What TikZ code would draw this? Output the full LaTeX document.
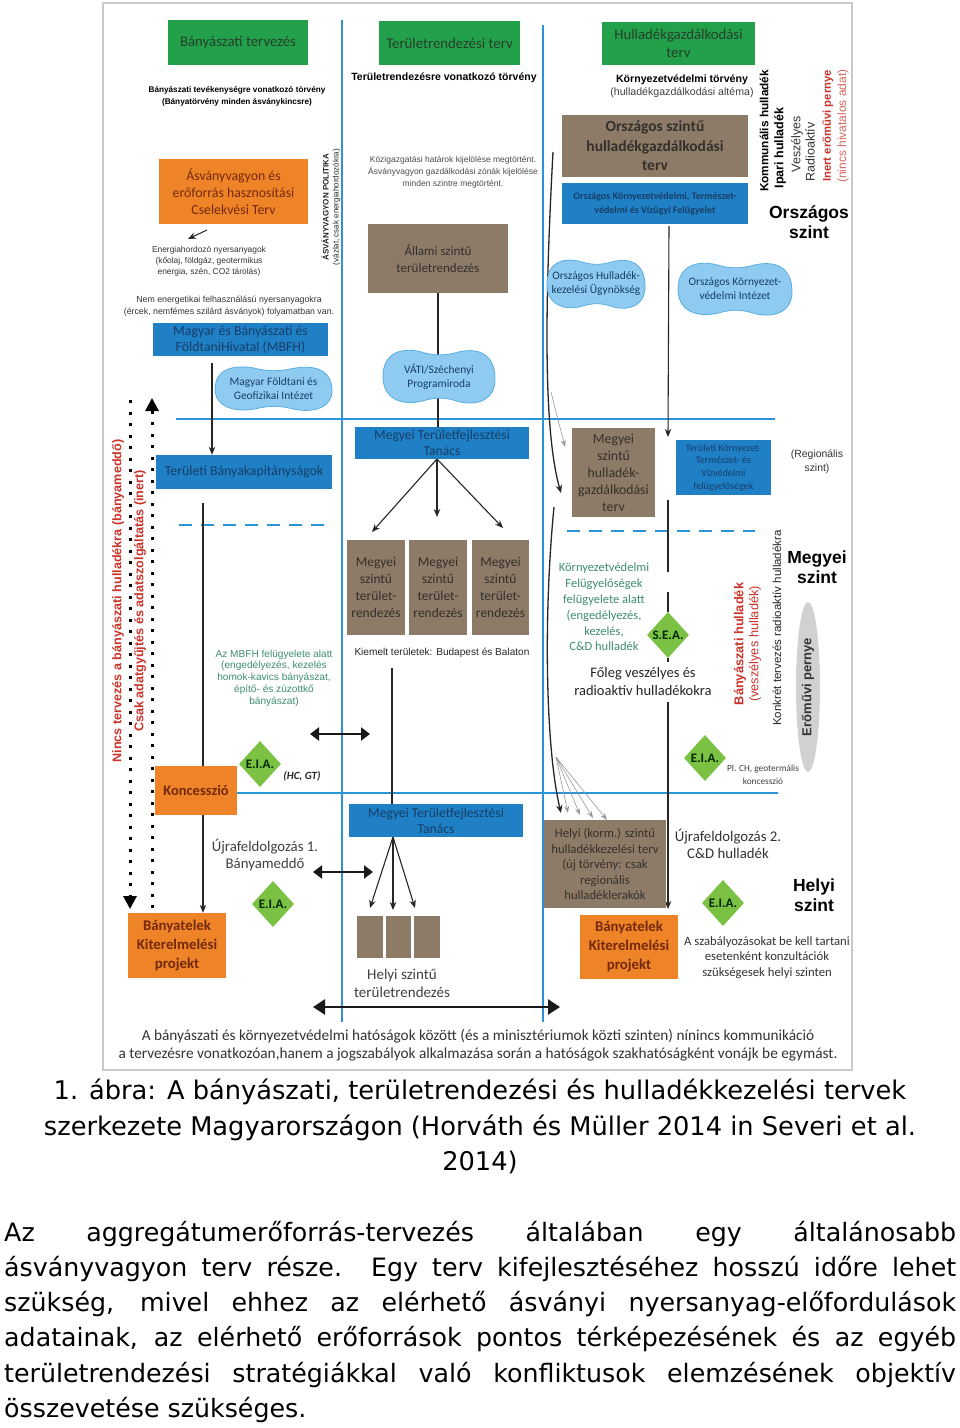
\documentclass[tikz,border=0pt]{standalone}
\usepackage{fontspec}
\setmainfont{Carlito}
\newfontfamily\arial{Liberation Sans}
\newfontfamily\capfont{DejaVu Sans}
\usetikzlibrary{shapes.geometric,arrows.meta,calc}
\definecolor{cgreen}{HTML}{22A04A}
\definecolor{cgreentx}{HTML}{263F2B}
\definecolor{corange}{HTML}{EE8427}
\definecolor{corangetx}{HTML}{74290E}
\definecolor{cbrown}{HTML}{8D7B67}
\definecolor{cbrowntx}{HTML}{34302B}
\definecolor{cblue}{HTML}{1F80C6}
\definecolor{cbluetx}{HTML}{173E66}
\definecolor{ccloud}{HTML}{8FCBF0}
\definecolor{ccloudline}{HTML}{58AEE2}
\definecolor{cline}{HTML}{2A95D6}
\definecolor{cdia}{HTML}{7BC143}
\definecolor{cred}{HTML}{C8352B}
\definecolor{cteal}{HTML}{3F8F6E}
\definecolor{cframe}{HTML}{C9C9C9}
\newcommand\fs[2]{\fontsize{#1}{#2}\selectfont}
\pgfdeclarelayer{back}
\pgfdeclarelayer{bg}
\pgfsetlayers{back,bg,main}
\newcommand\blobpath[4]{%
 \draw[cloudst, shift={(#1,#2)}, xscale=#3, yscale=#4] (-1,0) .. controls (-1,0.85) and (-0.62,1.02) .. (-0.3,0.86) .. controls (-0.05,0.72) and (0.1,0.72) .. (0.35,0.88) .. controls (0.7,1.05) and (1,0.8) .. (1,0.1) .. controls (1,-0.8) and (0.7,-1.02) .. (0.35,-0.86) .. controls (0.1,-0.72) and (-0.1,-0.72) .. (-0.35,-0.88) .. controls (-0.7,-1.02) and (-1,-0.8) .. cycle;}
\begin{document}
\begin{tikzpicture}[x=1pt,y=-1pt,
 bx/.style 2 args={minimum width=#1pt, minimum height=#2pt, inner sep=0pt, align=center},
 gb/.style={fill=cgreen, text=cgreentx, font=\fs{14.8}{18}},
 ob/.style={fill=corange, text=corangetx},
 brb/.style={fill=cbrown, text=cbrowntx},
 blb/.style={fill=cblue, text=cbluetx},
 cloudst/.style={fill=ccloud, draw=ccloudline, line width=0.8pt},
 ctx/.style={align=center, text=cbluetx, font=\fs{11.4}{14}, inner sep=0pt},
 eia/.style={diamond, fill=cdia, minimum width=42pt, minimum height=46pt, inner sep=0pt, text=black!85!green, font=\bfseries\fs{13}{13}},
 note/.style={align=center, inner sep=0pt},
 bl/.style={draw=cline, line width=2.6pt},
 bld/.style={draw=cline, line width=2.6pt, dash pattern=on 13pt off 9pt},
 conn/.style={draw=black!85, line width=1.1pt},
 arr/.style={conn, -{Stealth[length=8pt,width=6.5pt]}},
 tarr/.style={draw=black!40, line width=0.6pt, -{Stealth[length=7pt,width=5pt]}},
 dbl/.style={draw=black!90, line width=2.4pt, {Triangle[length=9pt,width=13pt]}-{Triangle[length=9pt,width=13pt]}},
 bigdbl/.style={draw=black!90, line width=2.6pt, {Triangle[length=12pt,width=15pt]}-{Triangle[length=12pt,width=15pt]}},
 dots/.style={draw=black, line width=3pt, dash pattern=on 3pt off 8.5pt},
 para/.style={anchor=west, inner sep=0pt, font=\capfont\fs{25.3}{25.3}},
]
\useasboundingbox (0,0) rectangle (960,1428);
\begin{pgfonlayer}{back}
 \fill[white] (0,0) rectangle (960,1428);
 \draw[cframe, line width=1.3pt] (103,3) rectangle (852,1070);
 \draw[bl] (342,20) -- (342,1022);
 \draw[bl] (543,25) -- (543,1022);
 \draw[bl] (176,419) -- (775,419);
 \draw[bl] (237,793) -- (778,793);
 \draw[bld] (179,525) -- (333,525);
 \draw[bld] (567,531) -- (755,531);
\end{pgfonlayer}

% ---------- left column ----------
\node[bx={140}{45}, gb] (bt) at (238,42.5) {Bányászati tervezés};
\node[note, font=\arial\bfseries\fs{8.2}{12}] (btlaw) at (237,96) {Bányászati tevékenységre vonatkozó törvény\\(Bányatörvény minden ásványkincsre)};
\node[bx={149}{65}, ob, font=\fs{13.8}{17}] (cst) at (233.5,191.5) {Ásványvagyon és\\erőforrás hasznosítási\\Cselekvési Terv};
\node[note, text=black!80, font=\arial\fs{8.4}{11.2}] (energ) at (209,261) {Energiahordozó nyersanyagok\\(kőolaj, földgáz, geotermikus\\energia, szén, CO2 tárolás)};
\coordinate (ea1) at (207,230);
\coordinate (ea2) at (188,239);
\node[note, text=black!80, font=\arial\fs{8.8}{12}] (nemen) at (229,306) {Nem energetikai felhasználású nyersanyagokra\\(ércek, nemfémes szilárd ásványok) folyamatban van.};
\node[note, rotate=90, text=black!85, font=\arial\fs{8}{10}] (polit) at (331,207) {{\bfseries ÁSVÁNYVAGYON POLITIKA}\\(vázlat, csak energiahordozókra)};
\node[bx={175}{33}, blb, font=\fs{13.8}{16.5}] (mbfh) at (240.5,339.5) {Magyar és Bányászati és\\FöldtaniHivatal (MBFH)};
\blobpath{273.5}{388.5}{58.5}{23.5}
\node[ctx] (mfgi) at (273.5,389) {Magyar Földtani és\\Geofizikai Intézet};
\node[bx={176}{34}, blb, font=\fs{13.8}{16}] (tbk) at (244,472) {Területi Bányakapitányságok};
\node[rotate=90, note, text=cred, font=\arial\bfseries\fs{12.6}{22}] (nincsterv) at (129,601) {Nincs tervezés a bányászati hulladékra (bányameddő)\\Csak adatgyűjtés és adatszolgáltatás (inert)};
\node[note, text=cteal, font=\arial\fs{10.1}{11.7}] (mbfhf) at (274,678) {Az MBFH felügyelete alatt\\(engedélyezés, kezelés\\homok-kavics bányászat,\\építő- és zúzottkő\\bányászat)};
\node[eia] (eia1) at (260,764) {E.I.A.};
\node[note, font=\bfseries\itshape\fs{11}{11}, text=black!85] (hcgt) at (302,776) {(HC, GT)};
\node[bx={82}{49}, ob, font=\bfseries\fs{14.5}{17}] (konc) at (196,790.5) {Koncesszió};
\node[note, text=black!75, font=\fs{14.8}{17}] (ujra1) at (265,855) {Újrafeldolgozás 1.\\Bányameddő};
\node[eia] (eia2) at (273,904) {E.I.A.};
\node[bx={98}{65}, ob, font=\bfseries\fs{14.8}{19}] (bkp1) at (177,945.5) {Bányatelek\\Kiterelmelési\\projekt};

% ---------- middle column ----------
\node[bx={141}{44}, gb] (tt) at (449.5,43) {Területrendezési terv};
\node[note, font=\arial\bfseries\fs{10.5}{12}] (ttlaw) at (444,78) {Területrendezésre vonatkozó törvény};
\node[note, text=black!70, font=\arial\fs{8.5}{12}] (kozig) at (453,172) {Közigazgatási határok kijelölése megtörtént.\\Ásványvagyon gazdálkodási zónák kijelölése\\minden szintre megtörtént.};
\node[bx={140}{69}, brb, font=\fs{13}{17}] (allami) at (438,258.5) {Állami szintű\\területrendezés};
\blobpath{439}{376.5}{56}{28.5}
\node[ctx] (vati) at (439,377) {VÁTI/Széchenyi\\Programiroda};
\node[bx={174}{32}, blb, font=\fs{13.6}{16}] (mtt1) at (442,443) {Megyei Területfejlesztési\\Tanács};
\node[bx={58}{95}, brb, font=\fs{13.5}{17}] (m1) at (376,587.5) {Megyei\\szintű\\terület-\\rendezés};
\node[bx={58}{95}, brb, font=\fs{13.5}{17}] (m2) at (438,587.5) {Megyei\\szintű\\terület-\\rendezés};
\node[bx={57}{95}, brb, font=\fs{13.5}{17}] (m3) at (500.5,587.5) {Megyei\\szintű\\terület-\\rendezés};
\node[note, text=black!85, font=\arial\fs{10.1}{11}] (kiem) at (442,653) {Kiemelt területek: Budapest és Balaton};
\node[bx={174}{33}, blb, font=\fs{13.6}{16}] (mtt2) at (436,820.5) {Megyei Területfejlesztési\\Tanács};
\node[bx={26}{42}, brb] (s1) at (370,937) {};
\node[bx={25}{42}, brb] (s2) at (398.5,937) {};
\node[bx={26}{42}, brb] (s3) at (427,937) {};
\node[note, text=black!75, font=\fs{15}{18}] (helyi) at (402,983) {Helyi szintű\\területrendezés};

% ---------- right column ----------
\node[bx={153}{43}, gb] (ht) at (678.5,43.5) {Hulladékgazdálkodási\\terv};
\node[note, font=\arial\fs{10.6}{13}] (htlaw) at (682,86.5) {{\bfseries Környezetvédelmi törvény}\\\textcolor{black!75}{(hulladékgazdálkodási altéma)}};
\node[bx={186}{62}, brb, font=\bfseries\fs{15.5}{19.5}] (osz) at (655,146) {Országos szintű\\hulladékgazdálkodási\\terv};
\node[bx={186}{41}, blb, font=\bfseries\fs{10}{14}] (oktvf) at (655,203.5) {Országos Környezetvédelmi, Természet-\\védelmi és Vízügyi Felügyelet};
\node[rotate=90, note, font=\arial\bfseries\fs{11.8}{12}] (kom) at (764,131) {Kommunális hulladék};
\node[rotate=90, note, font=\arial\bfseries\fs{12.5}{12}] (ipari) at (780,148) {Ipari hulladék};
\node[rotate=90, note, text=black!80, font=\arial\fs{12.5}{12}] (vesz) at (797,144) {Veszélyes};
\node[rotate=90, note, text=black!80, font=\arial\fs{12.5}{12}] (radio) at (810,152) {Radioaktív};
\node[rotate=90, note, text=cred, font=\arial\bfseries\fs{11.3}{12}] (inert) at (828,126) {Inert erőművi pernye};
\node[rotate=90, note, text=cred!75, font=\arial\fs{12}{12}] (nincs) at (843,126) {(nincs hivatalos adat)};
\node[note, font=\arial\bfseries\fs{17.5}{20}] (orsz) at (809,222) {Országos\\szint};
\blobpath{596}{284}{49}{26}
\node[ctx] (ohu) at (596,284) {Országos Hulladék-\\kezelési Ügynökség};
\blobpath{735}{289}{57}{28}
\node[ctx] (oki) at (735,289) {Országos Környezet-\\védelmi Intézet};
\node[bx={83}{89}, brb, font=\fs{13.8}{17}] (mhgt) at (613.5,472.5) {Megyei\\szintű\\hulladék-\\gazdálkodási\\terv};
\node[bx={95}{55}, blb, font=\fs{10}{12.7}] (tkt) at (723.5,467.5) {Területi Környezet-\\Természet- és\\Vízvédelmi\\felügyelőségek};
\node[note, text=black!80, font=\arial\fs{10.4}{14}] (regio) at (817,462) {(Regionális\\szint)};
\node[note, font=\arial\bfseries\fs{17.5}{20}] (megy) at (817,567) {Megyei\\szint};
\node[note, text=cteal, font=\fs{12.5}{15.8}] (kvf) at (604,607) {Környezetvédelmi\\Felügyelőségek\\felügyelete alatt\\(engedélyezés,\\kezelés,\\C\&D hulladék};
\node[eia] (sea) at (668,635) {S.E.A.};
\node[note, text=black!85, font=\fs{14.5}{17.5}] (foleg) at (643,681.5) {Főleg veszélyes és\\radioaktív hulladékokra};
\node[rotate=90, note, text=cred, font=\arial\fs{12.8}{15}] (banyh) at (747.5,644) {{\bfseries Bányászati hulladék}\\(veszélyes hulladék)};
\node[rotate=90, note, text=black!85, font=\arial\fs{11.5}{12}] (konk) at (777,628) {Konkrét tervezés radioaktív hulladékra};
\node[ellipse, rotate=90, minimum width=170pt, minimum height=24pt, inner sep=0pt, fill=black!18, text=black!80, font=\arial\bfseries\fs{13}{13}] (erom) at (808,687) {Erőművi pernye};
\node[eia] (eia3) at (705,758) {E.I.A.};
\node[note, text=black!75, font=\fs{9.3}{12.5}] (pl) at (763,775) {Pl. CH, geotermális\\koncesszió};
\node[bx={122}{88}, brb, font=\fs{12.7}{15.5}] (hk) at (605,864) {Helyi (korm.) szintű\\hulladékkezelési terv\\(új törvény: csak\\regionális\\hulladéklerakók};
\node[note, text=black!80, font=\fs{14.8}{17}] (ujra2) at (728,843.5) {Újrafeldolgozás 2.\\C\&D hulladék};
\node[eia] (eia4) at (723,903) {E.I.A.};
\node[note, font=\arial\bfseries\fs{17.5}{20}] (helyisz) at (814,895) {Helyi\\szint};
\node[bx={98}{64}, ob, font=\bfseries\fs{14.8}{19}] (bkp2) at (629,947) {Bányatelek\\Kiterelmelési\\projekt};
\node[note, text=black!80, font=\fs{12.7}{15.5}] (szab) at (767,957.5) {A szabályozásokat be kell tartani\\esetenként konzultációk\\szükségesek helyi szinten};

% ---------- bottom note, caption, paragraph ----------
\node[note, text=black!80, font=\fs{15.3}{18}] (komm) at (478,1045) {A bányászati és környezetvédelmi hatóságok között (és a minisztériumok közti szinten) nínincs kommunikáció\\a tervezésre vonatkozóan,hanem a jogszabályok alkalmazása során a hatóságok szakhatóságként vonájk be egymást.};
\node[note, font=\capfont\fs{25.7}{35.5}] (capt) at (480,1126.5) {1. ábra: A bányászati, területrendezési és hulladékkezelési tervek\\szerkezete Magyarországon (Horváth és Müller 2014 in Severi et al.\\2014)};
\node[para] (p1) at (4,1234) {\makebox[952pt][s]{Az aggregátumerőforrás-tervezés általában egy általánosabb}};
\node[para] (p2) at (4,1269) {\makebox[952pt][s]{ásványvagyon terv része. Egy terv kifejlesztéséhez hosszú időre lehet}};
\node[para] (p3) at (4,1304) {\makebox[952pt][s]{szükség, mivel ehhez az elérhető ásványi nyersanyag-előfordulások}};
\node[para] (p4) at (4,1339) {\makebox[952pt][s]{adatainak, az elérhető erőforrások pontos térképezésének és az egyéb}};
\node[para] (p5) at (4,1375) {\makebox[952pt][s]{területrendezési stratégiákkal való konfliktusok elemzésének objektív}};
\node[para] (p6) at (4,1410) {összevetése szükséges.};

% ---------- connectors ----------
\coordinate (mb1) at (212,363);
\coordinate (tb1) at (203,503);
\coordinate (d1s) at (130,400);
\coordinate (d1e) at (130,909);
\coordinate (d2s) at (152,908);
\coordinate (d2e) at (152,398);
\coordinate (da1) at (310,734);
\coordinate (da2) at (370,734);
\coordinate (db1) at (313,872);
\coordinate (db2) at (373,872);
\coordinate (dc1) at (313,1007);
\coordinate (dc2) at (560,1007);
\coordinate (mt1) at (437,459);
\coordinate (mta) at (372,532);
\coordinate (mtb) at (437,517);
\coordinate (mtc) at (503,528);
\coordinate (ki1) at (392,668);
\coordinate (mt2) at (393,837);
\coordinate (sta) at (370,908);
\coordinate (stb) at (393,910);
\coordinate (stc) at (415,908);
\coordinate (ok1) at (669,226);
\coordinate (ok2) at (668,437);
\coordinate (ok3) at (668,500);
\coordinate (ok4) at (668,572);
\coordinate (ok5) at (668,592);
\coordinate (ok6) at (668,662);
\coordinate (ok7) at (668,702);
\coordinate (ok8) at (668,909);
\coordinate (cu1) at (553,152);
\coordinate (cu2) at (561,493);
\coordinate (cu3) at (551,392);
\coordinate (cu4) at (565,447);
\coordinate (cl1) at (554,507);
\coordinate (cl2) at (561,813);
\coordinate (cf0) at (556,757);
\coordinate (cf1) at (568,813);
\coordinate (cf2) at (580,815);
\coordinate (cf3) at (593,818);
\coordinate (cf4) at (607,820);
\begin{pgfonlayer}{bg}
 \draw[arr, line width=1pt] (ea1) -- (ea2);
 \draw[arr] (mb1) -- (mb1 |- tbk.north);
 \draw[conn] (tb1) -- (tb1 |- konc.north);
 \draw[arr] (tb1 |- konc.south) -- (tb1 |- bkp1.north);
 \draw[dots, -{Triangle[length=13pt,width=13pt]}] (d1s) -- (d1e);
 \draw[dots, -{Triangle[length=13pt,width=13pt]}] (d2s) -- (d2e);
 \draw[dbl] (da1) -- (da2);
 \draw[dbl] (db1) -- (db2);
 \draw[bigdbl] (dc1) -- (dc2);
 \draw[conn] (allami.south) -- (allami.south |- mtt1.north);
 \draw[arr] (mt1) -- (mta);
 \draw[arr] (mt1) -- (mtb);
 \draw[arr] (mt1) -- (mtc);
 \draw[conn] (ki1) -- (ki1 |- mtt2.north);
 \draw[arr] (mt2) -- (sta);
 \draw[arr] (mt2) -- (stb);
 \draw[arr] (mt2) -- (stc);
 \draw[arr] (ok1) -- (ok2);
 \draw[conn] (ok3) -- (ok4);
 \draw[conn] (ok5) -- (sea.north);
 \draw[conn] (sea.south) -- (ok6);
 \draw[arr] (ok7) -- (ok8);
 \draw[arr, line width=1.3pt] (cu1) .. controls (545,300) and (543,430) .. (cu2);
 \draw[tarr] (cu3) -- (cu4);
 \draw[arr, line width=1.3pt] (cl1) .. controls (543,620) and (546,750) .. (cl2);
 \draw[tarr] (cf0) -- (cf1);
 \draw[tarr] (cf0) -- (cf2);
 \draw[tarr] (cf0) -- (cf3);
 \draw[tarr] (cf0) -- (cf4);
\end{pgfonlayer}
\end{tikzpicture}
\end{document}
